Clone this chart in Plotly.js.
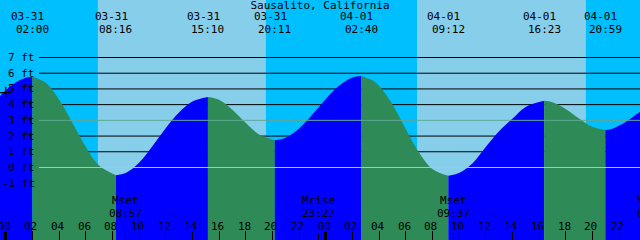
<!DOCTYPE html>
<html><head><meta charset="utf-8">
<script src="https://cdn.plot.ly/plotly-3.0.1.min.js"></script>
<style>html,body{margin:0;padding:0;background:#00BFFF;overflow:hidden}</style>
</head><body><div id="chart" style="width:640px;height:240px"></div>
<script>
const chartTitle = 'Sausalito, California';
const viewStart = '2025-03-30 23:34:22';
const viewEnd = '2025-04-01 23:34:22';

// tide curve (ft)
const tideTimes = [
 '2025-03-30 23:34:22','2025-03-31 00:00','2025-03-31 00:30','2025-03-31 01:00','2025-03-31 01:30',
 '2025-03-31 02:00','2025-03-31 03:00','2025-03-31 04:00','2025-03-31 05:00','2025-03-31 06:00','2025-03-31 07:00',
 '2025-03-31 08:16','2025-03-31 09:00','2025-03-31 10:00','2025-03-31 11:00','2025-03-31 12:00','2025-03-31 13:00','2025-03-31 14:00',
 '2025-03-31 15:10','2025-03-31 16:00','2025-03-31 17:00','2025-03-31 18:00','2025-03-31 19:00',
 '2025-03-31 20:11','2025-03-31 21:00','2025-03-31 22:00','2025-03-31 23:00','2025-04-01 00:00','2025-04-01 01:00','2025-04-01 02:00',
 '2025-04-01 02:40','2025-04-01 03:30','2025-04-01 04:00','2025-04-01 05:00','2025-04-01 06:00','2025-04-01 07:00','2025-04-01 08:00',
 '2025-04-01 09:12','2025-04-01 10:00','2025-04-01 11:00','2025-04-01 12:00','2025-04-01 13:00','2025-04-01 14:00','2025-04-01 15:00',
 '2025-04-01 16:23','2025-04-01 17:00','2025-04-01 18:00','2025-04-01 19:00','2025-04-01 20:00',
 '2025-04-01 20:59','2025-04-01 21:30','2025-04-01 22:00','2025-04-01 22:30','2025-04-01 23:00','2025-04-01 23:34:22'
];
const tideHeights = [
 4.55, 4.91, 5.27, 5.54, 5.71,
 5.77, 5.39, 4.32, 2.85, 1.32, 0.12,
 -0.49, -0.35, 0.30, 1.35, 2.50, 3.50, 4.20,
 4.49, 4.31, 3.68, 2.84, 2.10,
 1.74, 1.90, 2.48, 3.37, 4.35, 5.20, 5.73,
 5.83, 5.55, 5.20, 4.03, 2.45, 0.95, -0.10,
 -0.53, -0.35, 0.25, 1.30, 2.30, 3.10, 3.85,
 4.24, 4.16, 3.73, 3.12, 2.59,
 2.39, 2.47, 2.67, 2.90, 3.20, 3.54
];
const extremeTimes = ['2025-03-31 02:00','2025-03-31 08:16','2025-03-31 15:10','2025-03-31 20:11',
                      '2025-04-01 02:40','2025-04-01 09:12','2025-04-01 16:23','2025-04-01 20:59'];
const sunriseTimes = ['2025-03-31 06:55','2025-04-01 06:51'];
const sunsetTimes  = ['2025-03-31 19:31','2025-04-01 19:31'];
const moonLabels = ['Mset','Mrise','Mset','Mrise'];
const moonTimes  = ['2025-03-31 08:57','2025-03-31 23:27','2025-04-01 09:37','2025-04-02 00:33'];
const heightTicks = [-1,0,1,2,3,4,5,6,7];
const hourLabels = ['00','02','04','06','08','10','12','14','16','18','20','22'];
const days = ['2025-03-31','2025-04-01'];
const markTimes = ['2025-03-31 00:00'];
const markHeights = [4.77];

const C = {night:'#00BFFF', day:'#87CEEB', rise:'#0000FF', fall:'#2E8B57', grid:'#000000',
           msl:'#5FA896', datum:'#8FCDE8', text:'#000000'};
const FONT = {family:'DejaVu Sans Mono, monospace', size:11, color:C.text};
const yRange = [-4.614, 10.659];
const W = 640, H = 240;
const labelEdge = 35, lineStart = 39;

const traces = [];
const cuts = [0];
extremeTimes.forEach(t => { const i = tideTimes.indexOf(t); if (i > 0) cuts.push(i); });
cuts.push(tideTimes.length - 1);
for (let k = 0; k < cuts.length - 1; k++) {
  const a = cuts[k], b = cuts[k+1];
  const xs = tideTimes.slice(a, b + 1), ys = tideHeights.slice(a, b + 1);
  const rising = ys[ys.length-1] > ys[0];
  const col = rising ? C.rise : C.fall;
  traces.push({x:[xs[0], xs[xs.length-1]], y:[yRange[0], yRange[0]], mode:'lines',
    line:{width:0}, hoverinfo:'skip', showlegend:false});
  traces.push({x:xs, y:ys, mode:'lines', line:{width:0, shape:'spline', smoothing:1, color:col},
    fill:'tonexty', fillcolor:col, hoverinfo:'skip', showlegend:false});
}
traces.push({x:markTimes, y:markHeights, mode:'markers',
  marker:{symbol:'cross-thin', size:8, line:{color:'#000', width:1.3}}, hoverinfo:'skip', showlegend:false});
traces.push({x:[], y:[], xaxis:'x2', yaxis:'y', mode:'markers', showlegend:false, hoverinfo:'skip'});
traces.push({x:[], y:[], xaxis:'x3', yaxis:'y', mode:'markers', showlegend:false, hoverinfo:'skip'});

const shapes = [];
sunriseTimes.forEach((s, i) => shapes.push({type:'rect', xref:'x', yref:'paper', x0:s, x1:sunsetTimes[i],
  y0:0, y1:1, fillcolor:C.day, line:{width:0}, layer:'below'}));
heightTicks.forEach(v => {
  if (v < 1 || v === 3) return;
  shapes.push({type:'line', xref:'paper', yref:'y', x0:lineStart/W, x1:1, y0:v, y1:v,
    line:{color:C.grid, width:1}, layer:'below'});
});
shapes.push({type:'line', xref:'paper', yref:'y', x0:lineStart/W, x1:1, y0:3, y1:3, line:{color:C.msl, width:1}, layer:'above'});
shapes.push({type:'line', xref:'paper', yref:'y', x0:lineStart/W, x1:1, y0:0, y1:0, line:{color:C.datum, width:1}, layer:'above'});

const ann = [];
const py = px => 1 - px / H;
heightTicks.forEach(v => ann.push({xref:'paper', yref:'y', x:labelEdge/W, y:v, text:v + ' ft', xshift:2,
  xanchor:'right', yanchor:'middle', showarrow:false, font:FONT}));
extremeTimes.forEach(t => {
  const [d, hm] = t.split(' ');
  ann.push({xref:'x', yref:'paper', x:t, y:py(17), text:d.slice(5), xshift:-4.5,
    xanchor:'center', yanchor:'middle', showarrow:false, font:FONT});
  ann.push({xref:'x', yref:'paper', x:t, y:py(29.5), text:hm,
    xanchor:'center', yanchor:'middle', showarrow:false, font:FONT});
});
days.forEach(d => hourLabels.forEach(h => ann.push({xref:'x', yref:'paper', x:d + ' ' + h + ':00',
  y:py(226), text:h, xshift:-1.5, xanchor:'center', yanchor:'middle', showarrow:false, font:FONT})));
const t0 = Date.parse(viewStart.replace(' ', 'T')), t1 = Date.parse(viewEnd.replace(' ', 'T'));
moonTimes.forEach((t, i) => {
  const frac = (Date.parse(t.replace(' ', 'T')) - t0) / (t1 - t0);
  const base = frac >= 0 && frac <= 1 ? {xref:'x', x:t} : {xref:'paper', x:frac};
  ann.push(Object.assign({yref:'paper', y:py(200.5), text:moonLabels[i], xanchor:'center', yanchor:'middle', showarrow:false, font:FONT}, base));
  ann.push(Object.assign({yref:'paper', y:py(213), text:t.split(' ')[1], xanchor:'center', yanchor:'middle', showarrow:false, font:FONT}, base));
});

const axBase = {type:'date', range:[viewStart, viewEnd], showgrid:false, zeroline:false, showline:false,
  showticklabels:false, ticks:'inside', tickcolor:'#000', fixedrange:true};
const layout = {
  width:W, height:H, margin:{l:0, r:0, t:0, b:0, pad:0},
  paper_bgcolor:C.night, plot_bgcolor:C.night, showlegend:false,
  title:{text:chartTitle, x:0.5, xanchor:'center', y:py(5.5), yanchor:'middle', font:FONT},
  xaxis:Object.assign({}, axBase, {tickmode:'linear', tick0:days[0] + ' 00:00', dtick:2*3600*1000, ticklen:9, tickwidth:1}),
  xaxis2:Object.assign({}, axBase, {overlaying:'x', anchor:'y', tickmode:'array', tickvals:days.map(d => d + ' 00:00'), ticklen:8.5, tickwidth:3}),
  xaxis3:Object.assign({}, axBase, {overlaying:'x', anchor:'y', tickmode:'array', tickvals:moonTimes, ticklen:7, tickwidth:1}),
  yaxis:{range:yRange, showgrid:false, zeroline:false, showline:false, showticklabels:false, ticks:'', fixedrange:true},
  shapes:shapes, annotations:ann
};
Plotly.newPlot('chart', traces, layout, {staticPlot:true, displayModeBar:false});
</script></body></html>
